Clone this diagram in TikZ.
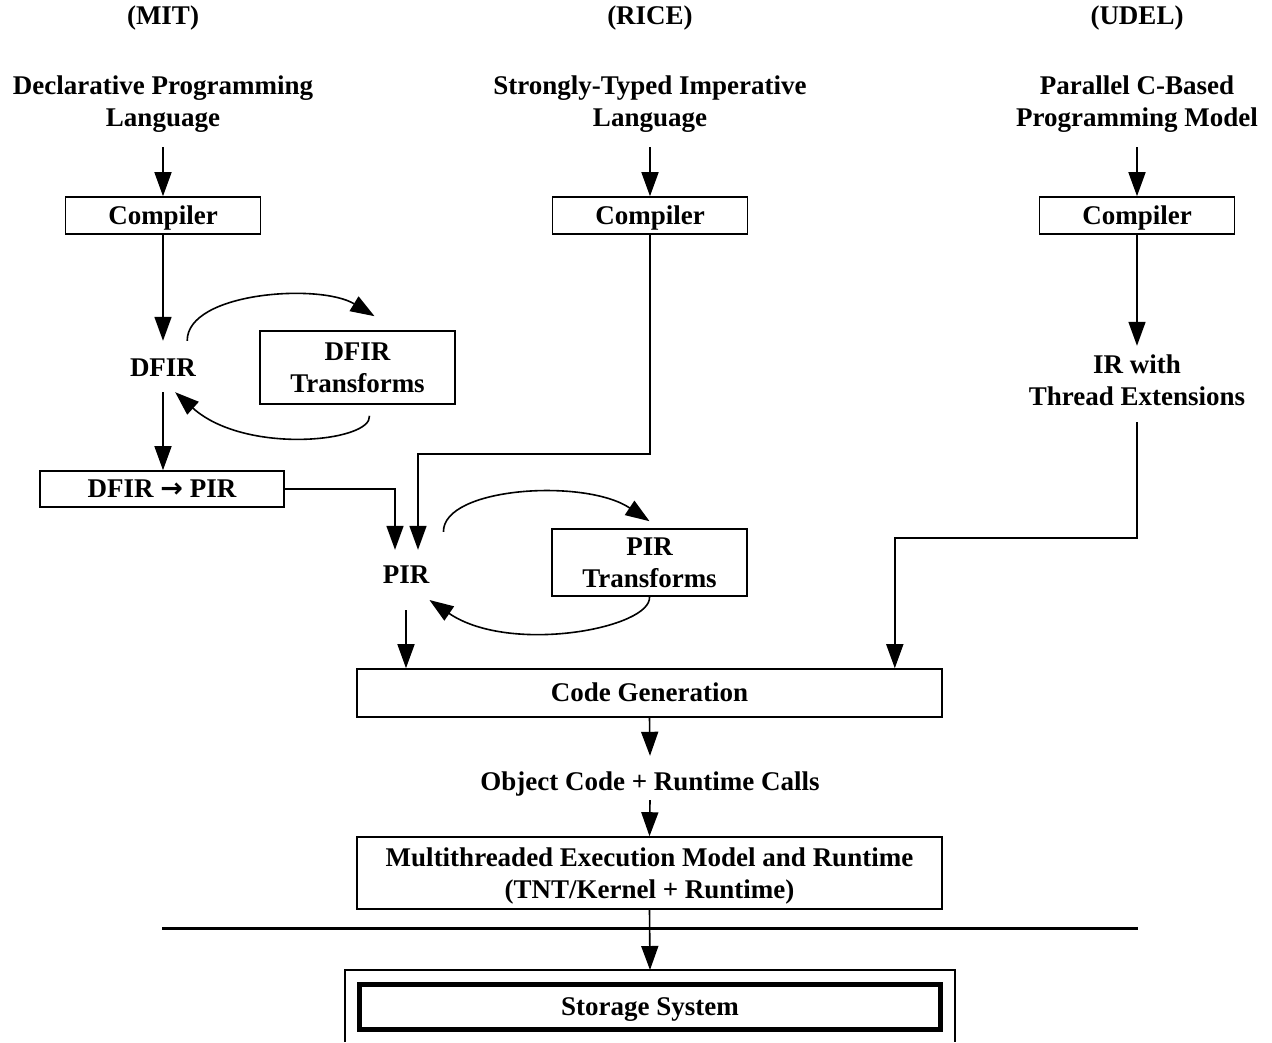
\documentclass[tikz,border=0pt]{standalone}
\usepackage{fontspec}
\setmainfont{Liberation Serif}
\newfontfamily\arrowfont{DejaVu Sans}
\usetikzlibrary{arrows.meta}
\begin{document}
\begin{tikzpicture}[x=1pt,y=-1pt,
  every node/.style={font=\fontsize{27}{32}\selectfont\bfseries, inner sep=0pt, align=center},
  box/.style={draw, line width=1.6pt, minimum width=195pt, minimum height=37pt},
  one/.style={text height=22pt, text depth=4.2pt},
  title/.style={minimum height=86pt},
  arr/.style={line width=1.6pt, -{Triangle[length=24pt,width=17pt]}},
  ln/.style={line width=1.6pt}]
\useasboundingbox (0,0) rectangle (1272,1042);
% headers
\node (mit) at (163,18) {(MIT)};
\node (rice) at (650,18) {(RICE)};
\node (udel) at (1137,18) {(UDEL)};
\node[title] (t1) at (163,104) {Declarative Programming\\Language};
\node[title] (t2) at (650,104) {Strongly-Typed Imperative\\Language};
\node[title] (t3) at (1137,104) {Parallel C-Based\\Programming Model};
% compilers
\node[box, one] (c1) at (163,215.5) {Compiler};
\node[box, one] (c2) at (650,215.5) {Compiler};
\node[box, one] (c3) at (1137,215.5) {Compiler};
% MIT branch
\node[text height=35pt, text depth=16pt, anchor=base] (dfir) at (163,376) {DFIR};
\node[box, minimum height=73pt] (dfirt) at (357.5,367.5) {DFIR\\Transforms};
\node[box, one, minimum width=244pt, minimum height=36pt] (dp) at (162,489) {DFIR {\arrowfont\bfseries →} PIR};
% PIR
\node[text height=33pt, text depth=27pt, anchor=base] (pir) at (406,583) {PIR};
\node[box, minimum height=67pt] (pirt) at (649.5,562.5) {PIR\\Transforms};
% UDEL
\node[minimum height=76pt] (ir) at (1137,384) {IR with\\Thread Extensions\rule[-8pt]{0pt}{8pt}};
% bottom
\node[box, one, minimum width=585pt, minimum height=48pt] (cg) at (649.5,693) {Code Generation};
\node[minimum height=44pt, text height=30pt, text depth=6pt] (oc) at (650,778) {Object Code + Runtime Calls};
\node[box, minimum width=585pt, minimum height=72pt] (mt) at (649.5,873) {\rule{0pt}{25pt}Multithreaded Execution Model and Runtime\\(TNT/Kernel + Runtime)};
\node[draw, one, line width=5pt, minimum width=581pt, minimum height=45pt] (st) at (650,1007) {Storage System};
\coordinate (outtop) at (650,970);
\draw[ln] (345,1042) -- (345,970) -- (955,970) -- (955,1042);
\draw[line width=3pt] (162,928) -- (1138,928);
% straight arrows
\draw[arr] (t1.south) -- (c1.north);
\draw[arr] (t2.south) -- (c2.north);
\draw[arr] (t3.south) -- (c3.north);
\draw[arr] (c1.south) -- (dfir.north);
\draw[arr] (dfir.south) -- (dp.north -| dfir.south);
\draw[arr] (dp.east) -| ([xshift=-11pt]pir.north);
\draw[arr] (c2.south) -- ++(0,219) -| ([xshift=12pt]pir.north);
\draw[arr] (pir.south) -- (pir.south |- cg.north);
\draw[arr] (c3.south) -- (ir.north);
\draw[arr] (ir.south) -- ++(0,116) -| ([xshift=-48pt]cg.north east);
\draw[arr] (cg.south) -- (oc.north);
\draw[arr] (oc.south) -- (mt.north);
\draw[arr] (mt.south) -- (outtop);
% loops
\draw[arr] ([xshift=-9pt]dfir.north east) .. controls (187,292) and (320,283) .. ([shift={(17pt,14pt)}]dfirt.north);
\draw[arr] ([shift={(12pt,-11pt)}]dfirt.south) .. controls (372,442) and (245,455) .. ([xshift=-21pt]dfir.south east);
\draw[arr] ([shift={(14pt,18pt)}]pir.north east) .. controls (443,487) and (585,478) .. ([yshift=7pt]pirt.north);
\draw[arr] (pirt.south) .. controls (652,628) and (510,655) .. ([yshift=-20pt]pir.east);
\end{tikzpicture}
\end{document}
